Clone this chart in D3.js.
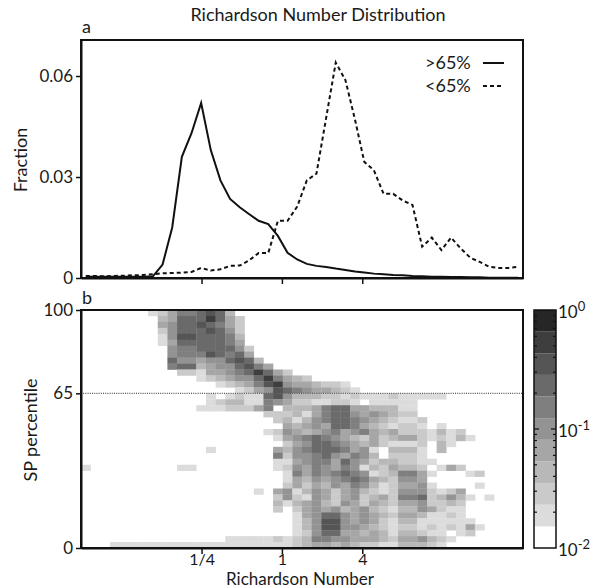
<!DOCTYPE html>
<html>
<head>
<meta charset="utf-8">
<script src="https://cdn.jsdelivr.net/npm/d3@7/dist/d3.min.js"></script>
<style>
  body { margin: 0; background: #fff; }
  text { font-family: "Lato", "DejaVu Sans", sans-serif; fill: #1a1a1a; }
</style>
</head>
<body>
<div id="chart"></div>
<script>
// Richardson number bins (log2 of bin centre), shared by both panels
var riLog2 = [-4.88, -4.64, -4.40, -4.16, -3.92, -3.69, -3.45, -3.21, -2.97, -2.73,
  -2.49, -2.25, -2.01, -1.77, -1.53, -1.29, -1.05, -0.82, -0.58, -0.34,
  -0.10, 0.14, 0.38, 0.62, 0.86, 1.10, 1.34, 1.58, 1.82, 2.05,
  2.29, 2.53, 2.77, 3.01, 3.25, 3.49, 3.73, 3.97, 4.21, 4.45,
  4.69, 4.92, 5.16, 5.40, 5.64, 5.88]
var binWidthLog2 = 11 / 46

// panel a: fraction of samples, SP percentile above / below 65
var above65 = [0.0004, 0.0004, 0.0004, 0.0004, 0.0004, 0.0004, 0.0004, 0.0005, 0.0040, 0.0150,
  0.0360, 0.0430, 0.0520, 0.0380, 0.0290, 0.0235, 0.0210, 0.0190, 0.0170, 0.0160,
  0.0125, 0.0075, 0.0055, 0.0042, 0.0036, 0.0033, 0.0028, 0.0024, 0.0019, 0.0016,
  0.0013, 0.0011, 0.0009, 0.0008, 0.0006, 0.0005, 0.0004, 0.0004, 0.0003, 0.0003,
  0.0002, 0.0002, 0.0001, 0.0001, 0.0001, 0.0001]
var below65 = [0.0006, 0.0006, 0.0005, 0.0006, 0.0007, 0.0008, 0.0009, 0.0011, 0.0014, 0.0015,
  0.0016, 0.0018, 0.0030, 0.0022, 0.0026, 0.0036, 0.0037, 0.0052, 0.0074, 0.0074,
  0.0170, 0.0170, 0.0212, 0.0290, 0.0310, 0.0475, 0.0640, 0.0588, 0.0470, 0.0345,
  0.0320, 0.0250, 0.0250, 0.0230, 0.0217, 0.0093, 0.0120, 0.0083, 0.0120, 0.0088,
  0.0060, 0.0048, 0.0033, 0.0030, 0.0030, 0.0033]

// panel b: colour level (0-10) per cell, rows from SP 100 down to 0 (2.5 each)
// each entry: "startColumn:levels", several entries per row separated by spaces
var heatRows = [
  "7:124667873",
  "8:347779742",
  "8:457787642",
  "8:257778752",
  "8:158877763",
  "8:147777764",
  "9:566777752",
  "9:566687674",
  "9:7554557873",
  "9:67734557864",
  "10:221445679742",
  "12:123455796432",
  "14:12346895443221",
  "16:1245876544321",
  "13:1012117853332212111211111",
  "13:1233116542211221011111",
  "12:11122246033346774433311",
  "19:2223146775454322",
  "20:2313567765432112",
  "21:43454776432122101",
  "19:125434564564342221312",
  "20:145676543242344212131",
  "21:245776543421112031",
  "13:1 20:435677764510333103",
  "20:6255675465302221",
  "20:11456647542332211",
  "0:1 10:11 20:12546546513243320142",
  "21:164656765123664100012",
  "21:143545676432554",
  "21:2424354653124451 41:1",
  "18:1 20:45135424532125552124",
  "20:25215424523426672353101",
  "20:31345325424324452232",
  "20:20245453453213354211",
  "22:145775454324431121",
  "22:1358854542133111111",
  "22:13588554321221212141",
  "22:1257744343133211012",
  "15:111112123665544432445321",
  "3:11111111111111111112344343221133321"
]
var levelGrays = ["#ffffff", "#dcdcdc", "#cacaca", "#b8b8b8", "#a6a6a6", "#939393",
  "#7f7f7f", "#6a6a6a", "#555555", "#3e3e3e", "#262626"]

var xTicks = [1/4, 1, 4], xTickLabels = ["1/4", "1", "4"]
var fracTicks = [0, 0.03, 0.06], fracLabels = ["0", "0.03", "0.06"]
var spTicks = [0, 65, 100]
var cbMajor = [0.01, 0.1, 1], cbExp = ["-2", "-1", "0"]
var cbMinor = [0.02, 0.03, 0.04, 0.05, 0.06, 0.07, 0.08, 0.09,
  0.2, 0.3, 0.4, 0.5, 0.6, 0.7, 0.8, 0.9]

var svg = d3.select("#chart")
  .append("svg")
  .attr("width", 590)
  .attr("height", 588)

// scales
var x = d3.scaleLog().base(2).domain([1/32, 64]).range([81, 523])
var yTop = d3.scaleLinear().domain([0, 0.0707]).range([278, 40])
var yBot = d3.scaleLinear().domain([0, 100]).range([548, 310])
var yCb = d3.scaleLog().domain([0.01, 1]).range([548, 310])
var gray = d3.scaleQuantize().domain([-2, 0]).range(levelGrays)
var nLevels = levelGrays.length

function levelValue(k) { return -2 + (k + 0.5) * 2 / nLevels }

// Title
svg.append("text")
  .attr("x", 318).attr("y", 21)
  .attr("text-anchor", "middle")
  .style("font-size", "18px")
  .text("Richardson Number Distribution")

// ---------- panel a ----------
svg.append("text").attr("x", 82).attr("y", 33).style("font-size", "18px").text("a")

var lineGen = d3.line()
  .x(function(d, i) { return x(Math.pow(2, riLog2[i])) })
  .y(function(d) { return yTop(d) })

svg.append("path")
  .datum(above65)
  .attr("fill", "none")
  .attr("stroke", "#111")
  .attr("stroke-width", 2)
  .attr("d", lineGen)

svg.append("path")
  .datum(below65)
  .attr("fill", "none")
  .attr("stroke", "#111")
  .attr("stroke-width", 2)
  .attr("stroke-dasharray", "4,3")
  .attr("d", lineGen)

svg.append("rect")
  .attr("x", 81).attr("y", 40).attr("width", 442).attr("height", 238)
  .attr("fill", "none").attr("stroke", "#111").attr("stroke-width", 2)

var axA = svg.append("g")
  .attr("transform", "translate(81,0)")
  .call(d3.axisLeft(yTop).tickValues(fracTicks)
    .tickFormat(function(d, i) { return fracLabels[i] }).tickSize(5).tickSizeOuter(0))
var axAx = svg.append("g")
  .attr("transform", "translate(0,278)")
  .call(d3.axisBottom(x).tickValues(xTicks).tickFormat("").tickSize(6).tickSizeOuter(0))

svg.append("text")
  .attr("transform", "translate(27,160) rotate(-90)")
  .attr("text-anchor", "middle")
  .style("font-size", "18px")
  .text("Fraction")

// legend
var legend = [{label: ">65%", dash: null, y: 63}, {label: "<65%", dash: "4,3", y: 86}]
legend.forEach(function(l) {
  svg.append("text").attr("x", 425).attr("y", l.y + 6)
    .style("font-size", "18px").text(l.label)
  svg.append("line")
    .attr("x1", 483).attr("x2", 504).attr("y1", l.y).attr("y2", l.y)
    .attr("stroke", "#111").attr("stroke-width", 2)
    .attr("stroke-dasharray", l.dash)
})

// ---------- panel b ----------
svg.append("text").attr("x", 82).attr("y", 304).style("font-size", "18px").text("b")

var cells = []
heatRows.forEach(function(row, r) {
  row.split(" ").forEach(function(seg) {
    var parts = seg.split(":"), start = +parts[0]
    parts[1].split("").forEach(function(ch, k) {
      var lv = parseInt(ch, 36)
      if (lv > 0) cells.push({col: start + k, row: r, level: lv})
    })
  })
})

svg.append("g").selectAll("rect")
  .data(cells)
  .enter()
  .append("rect")
  .attr("x", function(d) { return x(Math.pow(2, riLog2[d.col] - binWidthLog2 / 2)) })
  .attr("width", function(d) {
    return x(Math.pow(2, riLog2[d.col] + binWidthLog2 / 2)) - x(Math.pow(2, riLog2[d.col] - binWidthLog2 / 2)) + 0.3 })
  .attr("y", function(d) { return yBot(100 - 2.5 * d.row) })
  .attr("height", function(d) { return yBot(100 - 2.5 * (d.row + 1)) - yBot(100 - 2.5 * d.row) + 0.3 })
  .attr("fill", function(d) { return gray(levelValue(d.level)) })

svg.append("line")
  .attr("x1", 81).attr("x2", 523)
  .attr("y1", yBot(65)).attr("y2", yBot(65))
  .attr("stroke", "#555").attr("stroke-width", 1.2)
  .attr("stroke-dasharray", "1,1.2")

svg.append("rect")
  .attr("x", 81).attr("y", 310).attr("width", 442).attr("height", 238)
  .attr("fill", "none").attr("stroke", "#111").attr("stroke-width", 2)

var axB = svg.append("g")
  .attr("transform", "translate(81,0)")
  .call(d3.axisLeft(yBot).tickValues(spTicks).tickSize(5).tickSizeOuter(0))
var axBx = svg.append("g")
  .attr("transform", "translate(0,548)")
  .call(d3.axisBottom(x).tickValues(xTicks)
    .tickFormat(function(d, i) { return xTickLabels[i] }).tickSize(6).tickSizeOuter(0))

svg.append("text")
  .attr("transform", "translate(37,430) rotate(-90)")
  .attr("text-anchor", "middle")
  .style("font-size", "18px")
  .text("SP percentile")

svg.append("text")
  .attr("x", 300).attr("y", 585)
  .attr("text-anchor", "middle")
  .style("font-size", "17px")
  .text("Richardson Number")

// axis styling
svg.selectAll(".domain").attr("stroke", "#111").attr("stroke-width", 2)
svg.selectAll(".tick line").attr("stroke", "#111").attr("stroke-width", 1.5)
svg.selectAll(".tick text").style("font-size", "17px").attr("fill", "#1a1a1a")
  .style("font-family", "Lato, 'DejaVu Sans', sans-serif")
axBx.selectAll(".tick text").attr("y", 6).attr("dy", "0.71em").style("font-size", "16px")

// ---------- colour bar ----------
var cb = svg.append("g")
cb.selectAll("rect.band")
  .data(d3.range(nLevels))
  .enter()
  .append("rect")
  .attr("class", "band")
  .attr("x", 534).attr("width", 22)
  .attr("y", function(k) { return yCb(Math.pow(10, -2 + (k + 1) * 2 / nLevels)) })
  .attr("height", function(k) {
    return yCb(Math.pow(10, -2 + k * 2 / nLevels)) - yCb(Math.pow(10, -2 + (k + 1) * 2 / nLevels)) })
  .attr("fill", function(k) { return gray(levelValue(k)) })

cb.append("rect")
  .attr("x", 534).attr("y", 310).attr("width", 22).attr("height", 238)
  .attr("fill", "none").attr("stroke", "#111").attr("stroke-width", 1.5)

cbMinor.concat([0.1]).forEach(function(v) {
  var len = v === 0.1 ? 5 : 3
  cb.append("line").attr("x1", 534).attr("x2", 534 + len)
    .attr("y1", yCb(v)).attr("y2", yCb(v)).attr("stroke", "#111").attr("stroke-width", 1.2)
  cb.append("line").attr("x1", 556).attr("x2", 556 - len)
    .attr("y1", yCb(v)).attr("y2", yCb(v)).attr("stroke", "#111").attr("stroke-width", 1.2)
})

cbMajor.forEach(function(v, i) {
  var t = cb.append("text")
    .attr("x", 558).attr("y", yCb(v) + 8)
    .style("font-size", "17px")
  t.append("tspan").text("10")
  t.append("tspan").attr("dy", -7).style("font-size", "13px").text(cbExp[i])
})
</script>
</body>
</html>
